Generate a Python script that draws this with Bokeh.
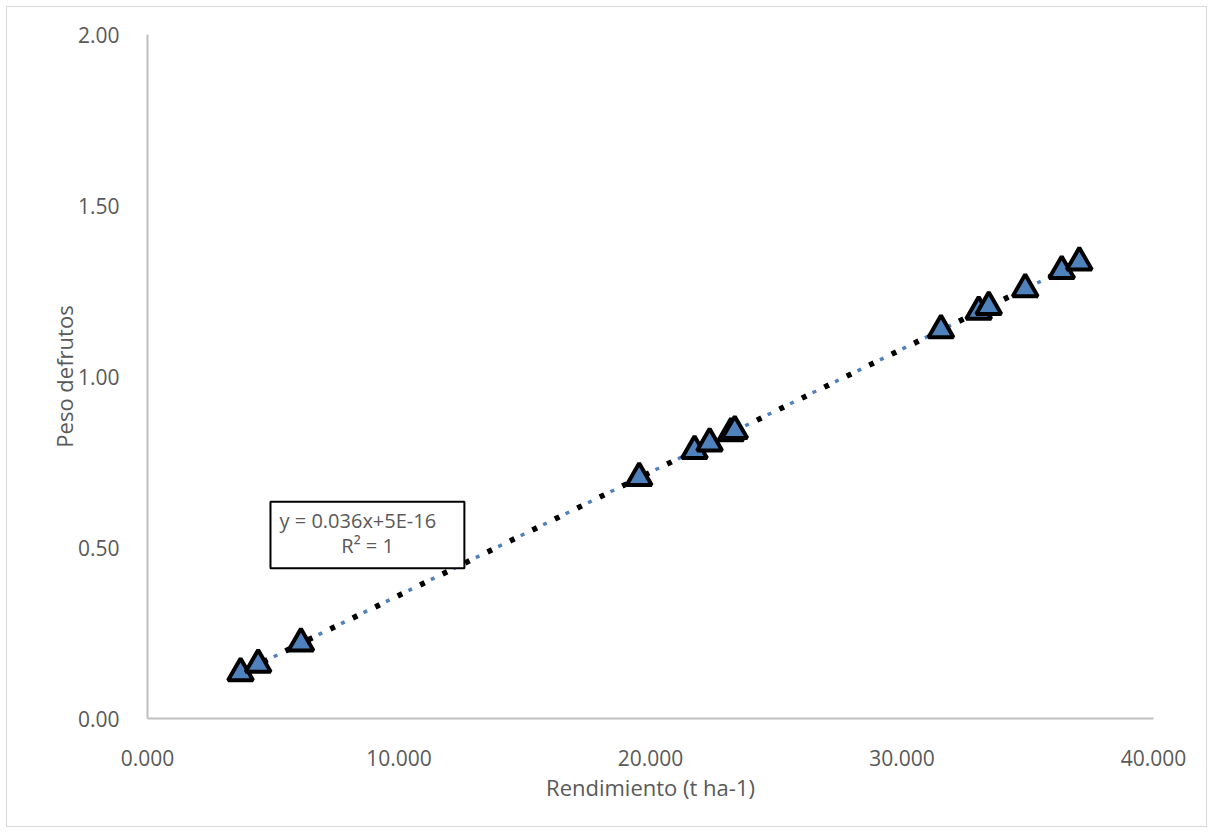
import numpy as np
from bokeh.plotting import figure
from bokeh.models import Range1d, FixedTicker, NumeralTickFormatter, Label, BoxAnnotation
from bokeh.embed import file_html
from bokeh.resources import INLINE

# Data
rendimiento = [3.70, 4.40, 6.10, 19.55, 21.75, 22.35, 23.20, 23.35, 31.55, 33.05, 33.45, 34.90, 36.35, 37.05]
peso = [0.133, 0.158, 0.220, 0.704, 0.783, 0.805, 0.835, 0.841, 1.136, 1.190, 1.204, 1.256, 1.309, 1.334]
x_ticks = [0, 10, 20, 30, 40]
y_ticks = [0, 0.5, 1.0, 1.5, 2.0]
x_title = "Rendimiento (t ha-1)"
y_title = "Peso defrutos"
eq_line1 = "y = 0.036x+5E-16"
eq_line2 = "R\u00b2 = 1"

FONT = "Open Sans"
GREY = "#595959"

p = figure(width=1201, height=821, output_backend="svg", toolbar_location=None,
           x_range=Range1d(0, 40), y_range=Range1d(0, 2),
           min_border_left=140, min_border_right=55, min_border_top=27, min_border_bottom=110)
p.styles = {"border": "1.5px solid #d9d9d9", "box-sizing": "border-box",
            "margin-left": "6px", "margin-top": "6px"}
p.outline_line_color = None
p.xgrid.visible = False
p.ygrid.visible = False

for ax in (p.xaxis[0], p.yaxis[0]):
    ax.axis_line_color = "#bfbfbf"
    ax.axis_line_width = 2
    ax.major_tick_line_color = None
    ax.minor_tick_line_color = None
    ax.major_label_text_color = GREY
    ax.major_label_text_font = FONT
    ax.major_label_text_font_size = "21px"
    ax.axis_label_text_color = GREY
    ax.axis_label_text_font = FONT
    ax.axis_label_text_font_size = "22px"
    ax.axis_label_text_font_style = "normal"

p.xaxis[0].ticker = FixedTicker(ticks=x_ticks)
p.yaxis[0].ticker = FixedTicker(ticks=y_ticks)
p.xaxis[0].formatter = NumeralTickFormatter(format="0.000")
p.yaxis[0].formatter = NumeralTickFormatter(format="0.00")
p.xaxis[0].axis_label = x_title
p.yaxis[0].axis_label = y_title
p.xaxis[0].major_label_standoff = 25
p.xaxis[0].axis_label_standoff = 3
p.yaxis[0].major_label_standoff = 22
p.yaxis[0].axis_label_standoff = -4

# series line (blue dotted)
p.line(rendimiento, peso, line_color="#4f81bd", line_width=3.5, line_dash="4 21", line_dash_offset=-12)

# linear trendline (black dotted)
m, b = np.polyfit(rendimiento, peso, 1)
tx = [min(rendimiento), max(rendimiento)]
ty = [m * v + b for v in tx]
p.line(tx, ty, line_color="black", line_width=5.5, line_dash="5 20")

# markers
p.scatter(rendimiento, peso, marker="triangle", size=25, fill_color="#4f81bd",
          line_color="black", line_width=4)

# equation box
box = BoxAnnotation(left=4.89, right=12.60, bottom=0.439, top=0.634,
                    fill_color="white", fill_alpha=1.0, line_color="black",
                    line_alpha=1.0, line_width=2)
p.add_layout(box)
p.add_layout(Label(x=5.25, y=0.578, text=eq_line1, text_font=FONT, text_font_size="20px",
                   text_color=GREY, text_baseline="middle", text_align="left"))
p.add_layout(Label(x=8.75, y=0.505, text=eq_line2, text_font=FONT, text_font_size="20px",
                   text_color=GREY, text_baseline="middle", text_align="center"))

open("out.html", "w").write(file_html(p, INLINE))
